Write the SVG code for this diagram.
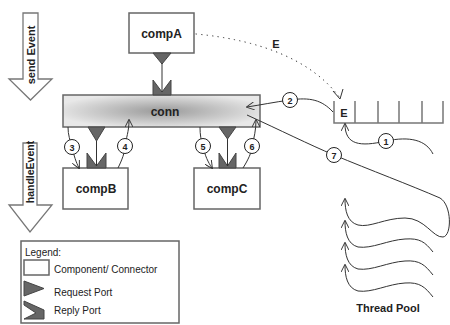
<svg xmlns="http://www.w3.org/2000/svg" width="450" height="325" viewBox="0 0 450 325">
  <style>
    .box { fill: #fff; stroke: #666; stroke-width: 1.5; }
    .lbl { font-family: "Liberation Sans", Arial, sans-serif; font-weight: bold; font-size: 12px; fill: #222; text-anchor: middle; }
    .small { font-family: "Liberation Sans", Arial, sans-serif; font-size: 10px; fill: #222; }
    .num { font-family: "Liberation Sans", Arial, sans-serif; font-weight: bold; font-size: 9px; fill: #222; text-anchor: middle; }
    .port { fill: #666; stroke: #444; stroke-width: 1; }
    .wire { fill: none; stroke: #333; stroke-width: 1; }
    .bigarrow { fill: #fff; stroke: #777; stroke-width: 1.3; }
    .circ { fill: #fff; stroke: #222; stroke-width: 1; }
    .queue { fill: none; stroke: #777; stroke-width: 1.5; }
  </style>
  <defs>
    <radialGradient id="connFill" cx="0.5" cy="0.5" r="0.55">
      <stop offset="0" stop-color="#9a9a9a"/>
      <stop offset="1" stop-color="#e8e8e8"/>
    </radialGradient>
    <marker id="arr" viewBox="0 0 10 10" refX="9" refY="5" markerWidth="8" markerHeight="8" markerUnits="userSpaceOnUse" orient="auto">
      <path d="M0,0 L10,5 L0,10" fill="none" stroke="#333" stroke-width="1.2"/>
    </marker>
  </defs>

  <!-- direction arrows -->
  <g id="sendEvent">
    <polygon class="bigarrow" points="23,13 38,13 38,79 52,79 30.5,100 9,79 23,79"/>
    <text class="lbl" transform="translate(35,55) rotate(-90)" style="font-size:11px">send Event</text>
  </g>
  <g id="handleEvent">
    <polygon class="bigarrow" points="23,143 37,143 37,205 52,205 30,232 9,205 23,205"/>
    <text class="lbl" transform="translate(34,172) rotate(-90)" style="font-size:10.5px">handleEvent</text>
  </g>

  <g id="compA">
    <rect class="box" x="129" y="13" width="65" height="40"/>
    <text class="lbl" x="161.5" y="38">compA</text>
    <polygon class="port" points="153,53 171,53 162,64"/>
  </g>

  <g id="conn">
    <rect x="63" y="95" width="197" height="32" fill="url(#connFill)" stroke="#666" stroke-width="1.5"/>
    <text class="lbl" x="165" y="116">conn</text>
    <polygon class="port" points="153,80 162,92 171,80 171,95 153,95"/>
    <polygon class="port" points="88,127 105,127 96.5,141"/>
    <polygon class="port" points="219,127 236,127 227.5,139"/>
  </g>

  <g id="compB">
    <rect class="box" x="63" y="168" width="65" height="41"/>
    <text class="lbl" x="96" y="193">compB</text>
    <polygon class="port" points="87,153 96.5,166 106,153 106,168 87,168"/>
  </g>

  <g id="compC">
    <rect class="box" x="194" y="168" width="66" height="41"/>
    <text class="lbl" x="227" y="193">compC</text>
    <polygon class="port" points="219,153 227.5,166 236,153 236,168 219,168"/>
  </g>

  <g id="queue">
    <path class="queue" d="M334,101 V123 H443 V101 M355,101 V123 M378,101 V123 M399,101 V123 M422,101 V123"/>
    <text class="lbl" x="344" y="117" style="font-size:11px">E</text>
  </g>

  <!-- connectors -->
  <g id="connectors">
    <!-- port links -->
    <line class="wire" x1="162" y1="63" x2="162" y2="92" stroke-width="1.5"/>
    <line class="wire" x1="96.5" y1="141" x2="96.5" y2="166" stroke-width="1.5"/>
    <line class="wire" x1="227.5" y1="139" x2="227.5" y2="166" stroke-width="1.5"/>
    <!-- event E -->
    <path class="wire" d="M196,34 C260,40 312,60 340,98" stroke-dasharray="0.5,5" stroke-linecap="round" stroke-width="2"/>
    <path class="wire" d="M333,91 L340,99 L343,89" stroke-width="1.3"/>
    <!-- 1 -->
    <path class="wire" d="M433,154 C426,140 410,136 386,141 C360,147 345,145 345,124" marker-end="url(#arr)"/>
    <!-- 2 -->
    <path class="wire" d="M333,112 C322,100 310,97 290,100 C275,102 260,105 247,107" marker-end="url(#arr)"/>
    <!-- 3, 4 -->
    <path class="wire" d="M68,127 C68,135 70,140 72,147 C74,156 76,162 79,168" marker-end="url(#arr)"/>
    <path class="wire" d="M118,168 C122,160 125,152 125,146 C126,138 129,132 129,120" marker-end="url(#arr)"/>
    <!-- 5, 6 -->
    <path class="wire" d="M200,127 C200,135 201,140 203,146 C205,156 208,162 212,168" marker-end="url(#arr)"/>
    <path class="wire" d="M243,168 C248,160 252,152 252,146 C254,138 256,130 256,120" marker-end="url(#arr)"/>
    <!-- 7 and returning thread -->
    <path class="wire" d="M247,115 C280,130 310,145 334,155 C370,170 410,185 440,198 C452,205 452,236 443,237 C433,238 425,218 405,218 C385,218 370,228 358,225 C347,222 345,210 345,199" marker-end="url(#arr)"/>
    <!-- thread pool -->
    <path class="wire" d="M433,252 C425,242 420,238 405,239 C388,240 372,249 358,247 C347,244 345,232 345,221" marker-end="url(#arr)"/>
    <path class="wire" d="M433,275 C425,265 420,260 405,261 C388,262 372,271 358,269 C347,266 345,254 345,243" marker-end="url(#arr)"/>
    <path class="wire" d="M433,297 C425,287 420,282 405,283 C388,284 372,293 358,291 C347,288 345,276 345,265" marker-end="url(#arr)"/>
  </g>

  <!-- step markers -->
  <g id="steps">
    <circle class="circ" cx="386" cy="141" r="7.5"/><text class="num" x="386" y="144.5">1</text>
    <circle class="circ" cx="290" cy="100" r="7.5"/><text class="num" x="290" y="103.5">2</text>
    <circle class="circ" cx="72" cy="147" r="7.5"/><text class="num" x="72" y="150.5">3</text>
    <circle class="circ" cx="125" cy="146" r="7.5"/><text class="num" x="125" y="149.5">4</text>
    <circle class="circ" cx="203" cy="146" r="7.5"/><text class="num" x="203" y="149.5">5</text>
    <circle class="circ" cx="252" cy="146" r="7.5"/><text class="num" x="252" y="149.5">6</text>
    <circle class="circ" cx="334" cy="155" r="7.5"/><text class="num" x="334" y="158.5">7</text>
  </g>

  <text class="lbl" x="276" y="48" style="font-size:11px">E</text>

  <text class="lbl" x="388" y="312" style="font-size:11px">Thread Pool</text>

  <g id="legend">
    <rect x="21" y="241" width="158" height="82" fill="#fff" stroke="#666" stroke-width="1.5"/>
    <text class="small" x="25" y="256">Legend:</text>
    <rect class="box" x="24" y="260" width="25" height="15" stroke-width="1.2"/>
    <text class="small" x="54" y="273">Component/ Connector</text>
    <polygon class="port" points="24,281 24,296 44,288.5"/>
    <text class="small" x="54" y="296">Request Port</text>
    <polygon class="port" points="24,301 44,310 44,319 24,319 36,313 24,305"/>
    <text class="small" x="54" y="314">Reply Port</text>
  </g>
</svg>
